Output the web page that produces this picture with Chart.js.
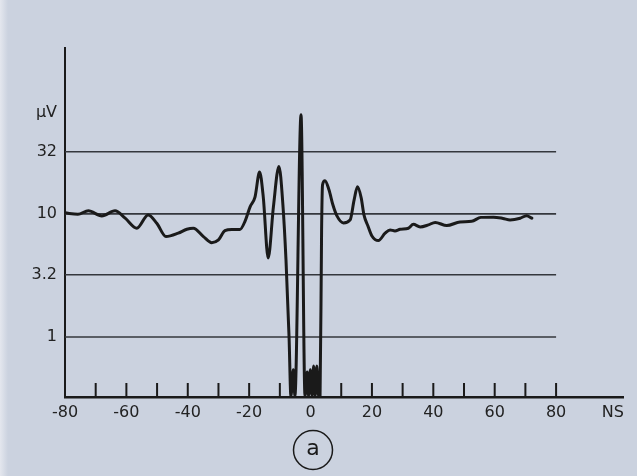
<!DOCTYPE html>
<html>
<head>
<meta charset="utf-8">
<script src="https://cdn.jsdelivr.net/npm/chart.js@4.4.1/dist/chart.umd.min.js"></script>
<style>
  html, body { margin: 0; padding: 0; background: #cbd2df; }
  #wrap { width: 637px; height: 476px; }
</style>
</head>
<body>
<div id="wrap"><canvas id="c" width="637" height="476"></canvas></div>
<script>
// ---- data ----
const nsValues = [-80, -75.8, -72.4, -68.0, -63.7, -60.4, -56.6, -52.9, -50.1, -47.1,
  -43.1, -40.3, -38.2, -34.9, -32.2, -30.0, -27.9, -25.6, -23.0, -21.3,
  -19.7, -18.1, -16.6, -15.4, -13.8, -12.1, -10.3, -9.0, -8.0, -7.0,
  -6.4, -5.6, -5.1, -3.1, -1.8, -1.1, -0.66, -0.07, 0.5, 1.0,
  1.5, 2.05, 2.6, 3.1, 3.6, 3.9, 4.7, 6.0, 7.3, 8.6,
  10.7, 12.9, 14.2, 15.3, 16.5, 17.4, 18.7, 20.0, 22.1, 24.3,
  25.9, 27.5, 29.2, 31.9, 33.5, 35.7, 38.4, 40.6, 44.4, 48.7,
  52.5, 55.5, 59.6, 62.7, 65.0, 68.3, 70.4, 72.1];
const uvValues = [10.2, 9.94, 10.6, 9.63, 10.6, 9.23, 7.65, 9.81, 8.40, 6.54,
  6.97, 7.51, 7.65, 6.54, 5.84, 6.15, 7.32, 7.48, 7.48, 8.77,
  11.4, 13.7, 21.9, 13.7, 4.39, 11.4, 24.3, 11.8, 4.23, 1.0,
  0.33, 0.54, 0.33, 63.8, 0.33, 0.52, 0.33, 0.54, 0.33, 0.58,
  0.33, 0.58, 0.33, 0.33, 7.42, 17.2, 18.6, 15.7, 11.8, 9.63,
  8.45, 8.94, 13.0, 16.6, 13.5, 9.81, 7.98, 6.62, 6.07, 6.97,
  7.41, 7.27, 7.51, 7.65, 8.22, 7.84, 8.14, 8.53, 8.03, 8.61,
  8.70, 9.37, 9.41, 9.19, 8.94, 9.23, 9.67, 9.23];

// ---- ticks / labels ----
const xLabelValues = [-80, -60, -40, -20, 0, 20, 40, 60, 80];
const xUnitLabel = 'NS';
const xUnitAt = 98.5;
const xTickMarks = [-70, -60, -50, -40, -30, -20, -10, 10, 20, 30, 40, 50, 60, 70, 80];
const yGridValues = [1, 3.2, 10, 32];
const yUnitLabel = 'µV';
const yUnitAt = 66;
const gridFrom = -80, gridTo = 80;
const panelLabel = 'a';

const FONT = { family: '"DejaVu Sans", sans-serif', size: 16 };
const INK = '#1a1a1a';
const BG = '#cbd2df';

const gridSets = yGridValues.map(v => ({
  data: [{ x: gridFrom, y: v }, { x: gridTo, y: v }],
  borderColor: '#34373d',
  borderWidth: 1.6,
  pointRadius: 0,
  order: 2
}));

const curve = {
  data: nsValues.map((x, i) => ({ x, y: uvValues[i] })),
  borderColor: INK,
  borderWidth: 3,
  pointRadius: 0,
  cubicInterpolationMode: 'monotone',
  borderJoinStyle: 'round',
  borderCapStyle: 'round',
  order: 0
};

const bgPlugin = {
  id: 'bg',
  beforeDraw(chart) {
    const ctx = chart.ctx;
    ctx.save();
    ctx.fillStyle = BG;
    ctx.fillRect(0, 0, chart.width, chart.height);
    const g = ctx.createLinearGradient(0, 0, 8, 0);
    g.addColorStop(0, '#e4e7ee');
    g.addColorStop(1, BG);
    ctx.fillStyle = g;
    ctx.fillRect(0, 0, 8, chart.height);
    ctx.restore();
  }
};

const marksPlugin = {
  id: 'marks',
  afterDraw(chart) {
    const ctx = chart.ctx, xs = chart.scales.x;
    const y0 = chart.chartArea.bottom;
    ctx.save();
    ctx.strokeStyle = INK;
    ctx.lineWidth = 2;
    ctx.beginPath();
    xTickMarks.forEach(v => {
      const x = xs.getPixelForValue(v);
      ctx.moveTo(x, y0);
      ctx.lineTo(x, y0 - 14);
    });
    ctx.stroke();
    // circled panel label
    const cx = xs.getPixelForValue(0.8);
    const cy = y0 + 53;
    ctx.lineWidth = 1.5;
    ctx.beginPath();
    ctx.arc(cx, cy, 19.5, 0, Math.PI * 2);
    ctx.stroke();
    ctx.fillStyle = INK;
    ctx.font = '22px "DejaVu Sans", sans-serif';
    ctx.textAlign = 'center';
    ctx.textBaseline = 'middle';
    ctx.fillText(panelLabel, cx, cy - 1);
    ctx.restore();
  }
};

new Chart(document.getElementById('c'), {
  type: 'line',
  data: { datasets: [curve, ...gridSets] },
  options: {
    responsive: false,
    animation: false,
    layout: { padding: { top: 48, right: 14, left: 0, bottom: 0 } },
    plugins: { legend: { display: false }, tooltip: { enabled: false } },
    scales: {
      x: {
        type: 'linear',
        bounds: 'data',
        min: -80,
        max: 101.8,
        grid: { display: false, drawTicks: false },
        border: { display: true, color: INK, width: 2.5 },
        ticks: {
          font: FONT, color: '#222', padding: 6, autoSkip: false, maxRotation: 0,
          callback: v => (v === xUnitAt ? xUnitLabel : String(v))
        },
        afterBuildTicks: s => { s.ticks = [...xLabelValues, xUnitAt].map(v => ({ value: v })); },
        afterFit: s => { s.height = 79; }
      },
      y: {
        type: 'logarithmic',
        bounds: 'data',
        min: 0.325,
        max: 223,
        grid: { display: false, drawTicks: false },
        border: { display: true, color: INK, width: 2 },
        ticks: {
          font: FONT, color: '#222', padding: 8, autoSkip: false,
          callback: v => (v === yUnitAt ? yUnitLabel : String(v))
        },
        afterBuildTicks: s => { s.ticks = [...yGridValues, yUnitAt].map(v => ({ value: v })); },
        afterFit: s => { s.width = 65; }
      }
    }
  },
  plugins: [bgPlugin, marksPlugin]
});
</script>
</body>
</html>
